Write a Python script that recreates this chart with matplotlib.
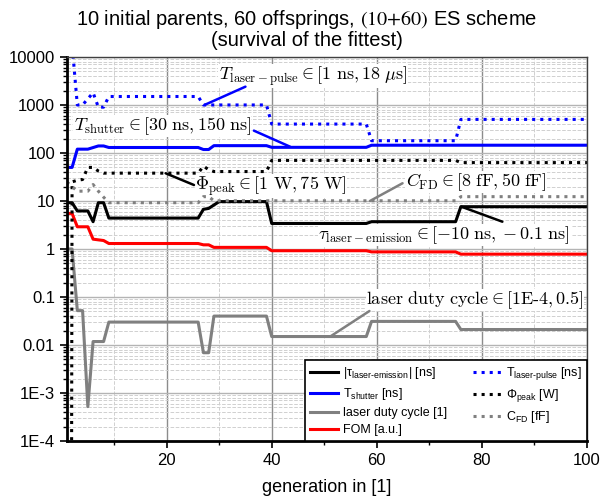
import matplotlib.pyplot as plt
from matplotlib.ticker import FixedLocator, LogLocator, NullFormatter

plt.rcParams['font.family'] = ['Liberation Sans', 'DejaVu Sans']
plt.rcParams['mathtext.fontset'] = 'custom'
plt.rcParams['mathtext.rm'] = 'Liberation Sans'
plt.rcParams['mathtext.it'] = 'Liberation Sans:italic'
plt.rcParams['mathtext.bf'] = 'Liberation Sans:bold'

# values, only at the generations where something changes
gen_tau = [1, 2, 3, 5, 6, 7, 8, 9, 26, 27, 28, 30, 39, 40, 58, 59, 75, 76, 100]
tau = [9.2, 9.2, 6.2, 6.2, 3.7, 9.2, 9.2, 4.4, 4.4, 6.7, 7.0, 9.7, 9.7, 3.4, 3.4, 3.7, 3.7, 7.6, 7.6]

gen_shutter = [1, 2, 3, 5, 7, 8, 9, 26, 27, 28, 29, 39, 40, 58, 59, 100]
shutter = [50, 50, 120, 120, 140, 140, 130, 130, 118, 118, 142, 142, 131, 131, 145, 145]

gen_duty = [1, 2, 3, 4, 5, 6, 8, 9, 26, 27, 28, 29, 39, 40, 58, 59, 75, 76, 100]
duty = [1, 1, 0.052, 0.052, 5.2e-4, 0.0118, 0.0118, 0.030, 0.030, 0.0069, 0.0069,
        0.040, 0.040, 0.015, 0.015, 0.031, 0.031, 0.021, 0.021]

gen_fom = [1, 2, 3, 5, 6, 8, 9, 26, 27, 28, 29, 39, 40, 58, 59, 75, 76, 100]
fom = [5.5, 5.5, 2.9, 2.9, 1.6, 1.5, 1.3, 1.3, 1.22, 1.22, 1.08, 1.08, 0.92, 0.92,
       0.87, 0.87, 0.78, 0.78]

gen_pulse = [1, 2, 3, 4, 6, 7, 8, 9, 26, 27, 39, 40, 58, 59, 75, 76, 100]
pulse = [18000, 18000, 1000, 1000, 1800, 900, 900, 1500, 1500, 1000, 1000, 400, 400,
         180, 180, 500, 500]

gen_peak = [1, 2, 3, 4, 5, 6, 7, 8, 26, 27, 28, 29, 39, 40, 75, 76, 100]
peak = [1e-60, 25, 27, 28, 50, 50, 42, 38, 38, 53, 45, 41, 41, 70, 70, 63, 63]

gen_cfd = [1, 2, 3, 5, 6, 7, 8, 9, 26, 27, 28, 29, 75, 76, 100]
cfd = [25, 20, 16, 16, 22, 16, 12, 9.2, 9.2, 12.3, 12.3, 10.1, 10.1, 12.3, 12.3]

y_ticks = [1e-4, 1e-3, 0.01, 0.1, 1, 10, 100, 1000, 10000]
y_tick_labels = ["1E-4", "1E-3", "0.01", "0.1", "1", "10", "100", "1000", "10000"]
x_ticks = [20, 40, 60, 80, 100]
x_minor = [10, 30, 50, 70, 90]

fig = plt.figure(figsize=(6.02, 5.04), dpi=100)
ax = fig.add_axes([0.111, 0.125, 0.864, 0.762])

lw = 2.2
ax.plot(gen_tau, tau, color='black', lw=lw, label=r'|τ$_{\mathrm{laser\text{-}emission}}$| [ns]')
ax.plot(gen_shutter, shutter, color='blue', lw=lw, label=r'T$_{\mathrm{shutter}}$ [ns]')
ax.plot(gen_duty, duty, color='#808080', lw=lw, label='laser duty cycle [1]')
ax.plot(gen_fom, fom, color='red', lw=lw, label='FOM [a.u.]')
ax.plot(gen_pulse, pulse, color='blue', lw=lw, ls=':', label=r'T$_{\mathrm{laser\text{-}pulse}}$ [ns]')
ax.plot(gen_peak, peak, color='black', lw=lw, ls=':', label=r'Φ$_{\mathrm{peak}}$ [W]')
ax.plot(gen_cfd, cfd, color='#808080', lw=lw, ls=':', label=r'C$_{\mathrm{FD}}$ [fF]')

ax.set_yscale('log')
ax.set_xlim(1, 100)
ax.set_ylim(1e-4, 1e4)
ax.xaxis.set_major_locator(FixedLocator(x_ticks))
ax.xaxis.set_minor_locator(FixedLocator(x_minor))
ax.yaxis.set_major_locator(FixedLocator(y_ticks))
ax.set_yticklabels(y_tick_labels)
ax.yaxis.set_minor_locator(LogLocator(base=10, subs=range(2, 10), numticks=20))
ax.yaxis.set_minor_formatter(NullFormatter())

ax.grid(which='major', axis='y', color='#b4b4b4', lw=1.0)
ax.grid(which='major', axis='x', color='#8c8c8c', lw=1.0)
ax.grid(which='minor', color='#d0d0d0', ls='--', lw=0.7)
ax.set_axisbelow(True)

for side in ['left', 'bottom']:
    ax.spines[side].set_linewidth(2)
for side in ['top', 'right']:
    ax.spines[side].set_linewidth(1)
    ax.spines[side].set_color('#404040')
ax.tick_params(which='major', direction='out', length=5, width=1.2, labelsize=12)
ax.tick_params(which='minor', direction='out', length=3, width=1)

ax.set_xlabel('generation in [1]', fontsize=13, labelpad=8)

fig.text(0.51, 0.985, '10 initial parents, 60 offsprings, $(10{+}60)$ ES scheme\n(survival of the fittest)',
         ha='center', va='top', fontsize=14.5, math_fontfamily='stix', linespacing=1.05)

box = dict(facecolor='white', edgecolor='none', pad=0.3)
notes = [
    (r'$T_{\mathrm{laser-pulse}} \in [1\ \mathrm{ns}, 18\ \mu\mathrm{s}]$', 29.9, 4020, 'blue', (35.0, 2405), (27.2, 1000)),
    (r'$T_{\mathrm{shutter}} \in [30\ \mathrm{ns}, 150\ \mathrm{ns}]$', 2.3, 365, 'blue', (36.6, 292), (43.5, 135)),
    (r'$\Phi_{\mathrm{peak}} \in [1\ \mathrm{W}, 75\ \mathrm{W}]$', 25.4, 20.5, 'black', (25.2, 21.5), (19.8, 37.8)),
    (r'$C_{\mathrm{FD}} \in [8\ \mathrm{fF}, 50\ \mathrm{fF}]$', 65.5, 24.9, '#808080', (64.9, 23.4), (58.7, 10)),
    (r'$\tau_{\mathrm{laser-emission}} \in [-10\ \mathrm{ns}, -0.1\ \mathrm{ns}]$', 48.9, 1.96, 'black', (76.1, 7.6), (83.9, 3.7)),
    (r'$\mathrm{laser\ duty\ cycle} \in [1\mathrm{E}\text{-}4, 0.5]$', 58.0, 0.0866, '#808080', (58.6, 0.051), (51.1, 0.0149)),
]
for txt, tx, ty, col, p0, p1 in notes:
    ax.annotate('', xy=p1, xytext=p0,
                arrowprops=dict(arrowstyle='-', color=col, lw=1.8, shrinkA=0, shrinkB=0))
    ax.text(tx, ty, txt, fontsize=13, math_fontfamily='cm', ha='left', va='center',
            bbox=box, zorder=1.5)

leg = ax.legend(loc='lower right', ncol=2, fontsize=9, borderaxespad=0, fancybox=False,
                framealpha=1, edgecolor='black', handlelength=2.3, handletextpad=0.4,
                labelspacing=0.4, columnspacing=2.0)
leg.get_frame().set_linewidth(1.2)
leg.set_zorder(5)

fig.savefig('out.png', dpi=100)
